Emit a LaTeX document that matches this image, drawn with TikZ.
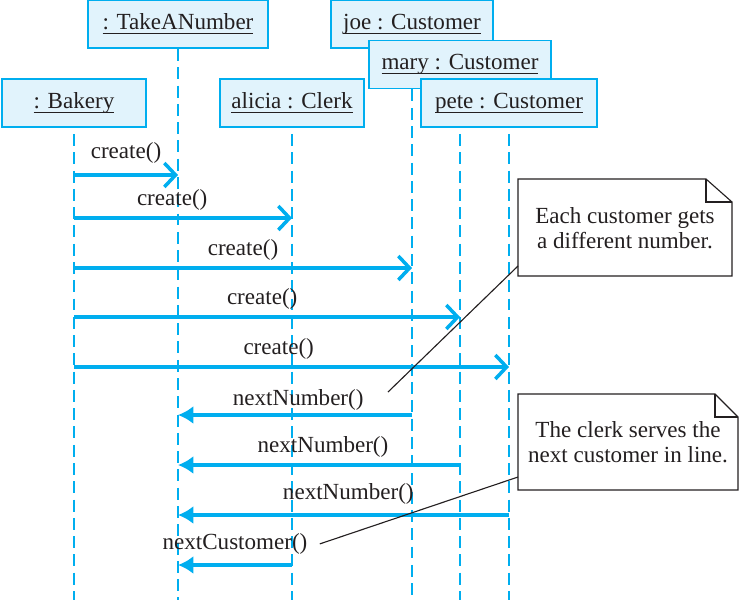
\documentclass[tikz,border=0pt]{standalone}
\usepackage{fontspec}
\setmainfont{Liberation Serif}
\usetikzlibrary{arrows.meta, calc}
\definecolor{lifecyan}{HTML}{00AEEF}
\definecolor{boxfill}{HTML}{E1F3FC}
\definecolor{inkgray}{HTML}{231F20}
\newcommand\objname[1]{\setbox0\hbox{#1}\leavevmode\rlap{\rule[-3.2pt]{\wd0}{0.7pt}}\box0}

\begin{document}
\begin{tikzpicture}[
    x=0.025cm, y=-0.025cm,
    every node/.style={font=\fontsize{16.4}{17.5}\selectfont, text=inkgray},
    obj/.style={draw=lifecyan, fill=boxfill, line width=1.4pt, minimum height=1.2cm, inner sep=0pt},
    life/.style={draw=lifecyan, line width=1.4pt, dash pattern=on 8.5pt off 4.5pt},
    create/.style={-{Straight Barb[length=8pt, width=17pt]}, draw=lifecyan, line width=2.5pt},
    reply/.style={-{Latex[length=11pt, width=13pt]}, draw=lifecyan, line width=2.5pt},
    msg/.style={above, yshift=1pt},
    notebox/.style={align=center, inner sep=0pt},
    noteline/.style={draw=inkgray, line width=0.8pt},
]
\useasboundingbox (0,0) rectangle (740,600);

% objects
\node[obj, minimum width=4.5cm] (tan) at (178,24) {\objname{: TakeANumber}};
\node[obj, minimum width=3.6cm] (bakery) at (74,103) {\objname{: Bakery}};
\node[obj, minimum width=3.6cm] (clerk) at (292,103) {\objname{alicia : Clerk}};
\node[obj, minimum width=4.05cm] (joe) at (412,24) {\objname{joe : Customer}};
\node[obj, minimum width=4.55cm] (mary) at (460,64.5) {\objname{mary : Customer}};
\node[obj, minimum width=4.4cm] (pete) at (509,103) {\objname{pete : Customer}};

% lifelines
\draw[life] (tan.south) -- (tan.south |- 0,600);
\draw[life] ($(bakery.south)+(0,6)$) -- (bakery.south |- 0,600);
\draw[life] ($(clerk.south)+(0,6)$) -- (clerk.south |- 0,600);
\draw[life] (joe.south |- mary.south) -- (joe.south |- 0,600);
\draw[life] ($(mary.south |- pete.south)+(0,6)$) -- (mary.south |- 0,600);
\draw[life] ($(pete.south)+(0,6)$) -- (pete.south |- 0,600);

% messages
\draw[create] (bakery.south |- 0,175) -- node[msg, yshift=3pt] (c1) {create()} (tan.south |- 0,175);
\draw[create] (bakery.south |- 0,218) -- node[msg, xshift=-0.27cm] (c2) {create()} (clerk.south |- 0,218);
\draw[create] (bakery.south |- 0,268) -- node[msg] (c3) {create()} (joe.south |- 0,268);
\draw[create] (bakery.south |- 0,317) -- node[msg, xshift=-0.12cm] (c4) {create()} (mary.south |- 0,317);
\draw[create] (bakery.south |- 0,367) -- node[msg, xshift=-0.32cm] (c5) {create()} (pete.south |- 0,367);
\draw[reply] (joe.south |- 0,415) -- node[msg, xshift=0.08cm, yshift=-2pt] (n1) {nextNumber()} (tan.south |- 0,415);
\draw[reply] (mary.south |- 0,465) -- node[msg, xshift=0.1cm] (n2) {nextNumber()} (tan.south |- 0,465);
\draw[reply] (pete.south |- 0,515) -- node[msg, xshift=0.12cm, yshift=2pt] (n3) {nextNumber()} (tan.south |- 0,515);
\draw[reply] (clerk.south |- 0,565) -- node[msg, yshift=2pt] (nc) {nextCustomer()} (tan.south |- 0,565);

% notes
\node[notebox] (note1) at (625,228) {Each customer gets\\a different number.};
\draw[noteline] (518,276) -- (518,179) -- (706,179) -- (732,202) -- (732,276) -- cycle;
\draw[noteline] (706,179) -- (706,202) -- (732,202);
\coordinate (note1end) at (388,392);
\draw[noteline] (518,266) -- (note1end);

\node[notebox] (note2) at (628,442) {The clerk serves the\\next customer in line.};
\draw[noteline] (518,490) -- (518,394) -- (715,394) -- (738,417) -- (738,490) -- cycle;
\draw[noteline] (715,394) -- (715,417) -- (738,417);
\draw[noteline] (518,477) -- ($(nc.east)+(6,0)$);

\end{tikzpicture}
\end{document}
